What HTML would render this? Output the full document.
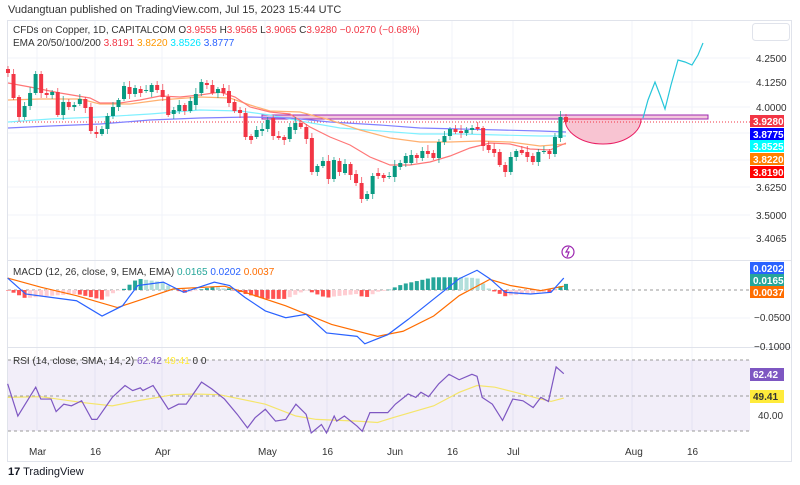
<!DOCTYPE html>
<html><head><meta charset="utf-8"><style>
body{margin:0;background:#fff;width:800px;height:485px;overflow:hidden;font-family:"Liberation Sans",sans-serif}
svg{position:absolute;left:0;top:0}
</style></head><body>
<svg id="s" width="800" height="485" xmlns="http://www.w3.org/2000/svg" font-family="Liberation Sans, sans-serif">
<rect x="0" y="0" width="800" height="485" fill="#fff"/>
<text x="8" y="13" font-size="11" fill="#333">Vudangtuan published on TradingView.com, Jul 15, 2023 15:44 UTC</text>
<rect x="7.5" y="20.5" width="784" height="441" fill="none" stroke="#e0e3eb"/>
<g id="grid" stroke="#f0f3fa" stroke-width="1"></g>
<rect x="262" y="115" width="446" height="4" fill="#f3c8dc" stroke="#9c27b0" stroke-width="1"/>
<path d="M565,119 A38,25 0 0 0 641,119 Z" fill="#f8c4d2" stroke="#e91e63" stroke-width="1"/>
<line x1="8" y1="122" x2="750" y2="122" stroke="#f23645" stroke-width="1" stroke-dasharray="1,2"/>
<g id="ema" fill="none" stroke-width="1.2"></g>
<g id="candles"></g>
<polyline fill="none" stroke="#26c6da" stroke-width="1.2" points="643,118 648,100 655,82 660,95 665,109 671,85 678,60 685,62 692,65 698,55 703,43"/>
<circle cx="568" cy="252" r="6" fill="#fff" stroke="#9c27b0" stroke-width="1.2"/>
<path d="M569,247 L566,252 L569,252 L567,257" fill="none" stroke="#9c27b0" stroke-width="1.2"/>
<line x1="8" y1="260.5" x2="792" y2="260.5" stroke="#e0e3eb"/>
<line x1="8" y1="347.5" x2="792" y2="347.5" stroke="#e0e3eb"/>
<line x1="8" y1="290" x2="750" y2="290" stroke="#999" stroke-dasharray="3,3"/>
<g id="macd"></g>
<rect x="8" y="360" width="742" height="71" fill="#7e57c2" fill-opacity="0.1"/>
<line x1="8" y1="360" x2="750" y2="360" stroke="#999" stroke-dasharray="3,3"/>
<line x1="8" y1="396" x2="750" y2="396" stroke="#999" stroke-dasharray="3,3"/>
<line x1="8" y1="431" x2="750" y2="431" stroke="#999" stroke-dasharray="3,3"/>
<g id="rsi"></g>
<g font-size="10" fill="#333">
<text x="13" y="33" font-size="10">CFDs on Copper, 1D, CAPITALCOM  O<tspan fill="#f23645">3.9555</tspan>  H<tspan fill="#f23645">3.9565</tspan>  L<tspan fill="#f23645">3.9065</tspan>  C<tspan fill="#f23645">3.9280  −0.0270 (−0.68%)</tspan></text>
<text x="13" y="46">EMA 20/50/100/200  <tspan fill="#f23645">3.8191</tspan>  <tspan fill="#ff9800">3.8220</tspan>  <tspan fill="#00e5ff">3.8526</tspan>  <tspan fill="#2962ff">3.8777</tspan></text>
<text x="13" y="275">MACD (12, 26, close, 9, EMA, EMA)  <tspan fill="#26a69a">0.0165</tspan>  <tspan fill="#2962ff">0.0202</tspan>  <tspan fill="#ff6d00">0.0037</tspan></text>
<text x="13" y="364">RSI (14, close, SMA, 14, 2)  <tspan fill="#7e57c2">62.42</tspan>  <tspan fill="#ffeb3b">49.41</tspan>  0  0</text>
</g>
<g font-size="10" fill="#333">
<text x="756" y="62">4.2500</text><text x="756" y="86">4.1250</text><text x="756" y="111">4.0000</text>
<text x="756" y="191">3.6250</text><text x="756" y="219">3.5000</text><text x="756" y="242">3.4065</text>
<text x="754" y="321">−0.0500</text><text x="754" y="350">−0.1000</text><text x="758" y="419">40.00</text>
</g>
<rect x="752.5" y="23.5" width="37" height="17" rx="3" fill="#fff" stroke="#e0e3eb"/>
<g font-size="10" font-weight="bold" fill="#fff">
<rect x="750" y="115" width="34" height="12" fill="#f23645"/><text x="753" y="125">3.9280</text>
<rect x="750" y="128" width="34" height="12" fill="#0000ff"/><text x="753" y="138">3.8775</text>
<rect x="750" y="140" width="34" height="12" fill="#00ffff"/><text x="753" y="150" fill="#fff">3.8525</text>
<rect x="750" y="153" width="34" height="12" fill="#ff7f00"/><text x="753" y="163">3.8220</text>
<rect x="750" y="166" width="34" height="12" fill="#ff0000"/><text x="753" y="176">3.8190</text>
<rect x="750" y="262" width="34" height="12" fill="#2962ff"/><text x="753" y="272">0.0202</text>
<rect x="750" y="274" width="34" height="12" fill="#26a69a"/><text x="753" y="284">0.0165</text>
<rect x="750" y="286" width="34" height="12" fill="#ff6d00"/><text x="753" y="296">0.0037</text>
<rect x="750" y="368" width="34" height="13" fill="#7e57c2"/><text x="753" y="378">62.42</text>
<rect x="750" y="390" width="34" height="13" fill="#ffeb3b"/><text x="753" y="400" fill="#333">49.41</text>
</g>
<g font-size="10" fill="#333">
<text x="29" y="455">Mar</text><text x="90" y="455">16</text><text x="155" y="455">Apr</text><text x="258" y="455">May</text>
<text x="322" y="455">16</text><text x="387" y="455">Jun</text><text x="447" y="455">16</text><text x="507" y="455">Jul</text>
<text x="625" y="455">Aug</text><text x="687" y="455">16</text>
</g>
<text x="8" y="475" font-size="11" fill="#131722"><tspan font-weight="bold">17</tspan> TradingView</text>
</svg>
<script>
var NS="http://www.w3.org/2000/svg";
function el(p,t,a){var e=document.createElementNS(NS,t);for(var k in a)e.setAttribute(k,a[k]);document.getElementById(p).appendChild(e);return e;}
[37,95,162,265,327,393,452,513,632,692].forEach(function(x){el("grid","line",{x1:x,y1:21,x2:x,y2:431});});
[58,82,107,133,160,187,215,238].forEach(function(y){el("grid","line",{x1:8,y1:y,x2:750,y2:y});});
[318].forEach(function(y){el("grid","line",{x1:8,y1:y,x2:750,y2:y});});
var C=[[69,73,0],[74,98,0],[97,117,0],[106,117,1],[93,106,1],[74,93,1],[74,93,0],[93,95,0],[92,95,1],[92,115,0],[102,115,1],[102,107,0],[105,107,1],[99,104,1],[99,108,0],[107,131,0],[132,134,0],[129,134,1],[116,129,1],[107,116,1],[100,107,1],[86,99,1],[87,94,0],[88,94,1],[89,93,0],[90,91,1],[85,92,1],[85,90,0],[90,97,0],[97,115,0],[110,114,1],[105,111,1],[105,111,0],[101,111,1],[94,105,1],[82,93,1],[83,85,0],[85,93,0],[89,93,1],[88,93,0],[91,103,0],[102,111,0],[110,113,0],[113,137,0],[136,140,0],[130,137,1],[129,131,1],[120,129,1],[118,136,0],[136,138,0],[137,140,0],[127,139,1],
[123,130,1],[123,127,0],[127,139,0],[138,172,0],[166,172,1],[161,166,1],[161,179,0],[160,179,1],[161,172,0],[164,173,1],[164,175,0],[174,183,0],[183,199,0],[194,199,1],[176,194,1],[173,176,0],[175,178,0],[176,177,1],[166,177,1],[163,167,1],[156,163,1],[155,163,1],[155,158,0],[151,158,1],[151,154,0],[153,158,0],[142,158,1],[136,142,1],[129,136,1],[129,132,0],[131,133,0],[130,133,1],[128,130,1],[127,129,0],[128,146,0],[145,150,0],[149,153,0],[152,165,0],[165,172,0],[157,172,1],[151,157,1],[150,153,0],[152,157,0],[156,162,0],[152,162,1],[151,152,1],[151,154,0],[137,154,1],[117,138,1],[117,122,0]];
var n=C.length,st=(566-8)/(n-1);
C.forEach(function(c,i){var x=8+i*st,col=c[2]?"#089981":"#f23645";var w=[3,5,2,4,6,3][i%6];
el("candles","line",{x1:x,y1:c[0]-w,x2:x,y2:c[1]+[4,2,5,3][i%4],stroke:col,"stroke-width":1,"stroke-opacity":0.7});
el("candles","rect",{x:x-2,y:c[0],width:4,height:Math.max(1,c[1]-c[0]),fill:col});});
function pl(g,pts,col,w){el(g,"polyline",{points:pts.map(function(p){return p.join(",")}).join(" "),fill:"none",stroke:col,"stroke-width":w||1.2});}
pl("ema",[[8,122],[50,119],[100,117],[150,114],[200,110],[240,111],[270,115],[300,121],[340,128],[380,131],[420,134],[460,134],[500,135],[540,136],[566,136]],"#80f0ff");
pl("ema",[[8,128],[50,126],[100,124],[150,120],[200,118],[250,117],[290,118],[330,122],[380,125],[420,128],[460,129],[500,130],[540,131],[566,132]],"#8080ff");
pl("ema",[[8,100],[40,99],[80,99],[100,104],[130,104],[160,100],[200,97],[230,98],[250,105],[270,111],[300,112],[330,120],[360,130],[390,138],[420,142],[450,142],[480,141],[510,142],[540,146],[566,144]],"#ffb070");
pl("ema",[[8,83],[30,87],[60,93],[90,98],[100,103],[120,103],[140,100],[160,96],[180,97],[200,95],[220,92],[235,97],[250,107],[270,112],[290,114],[310,127],[330,137],[350,145],[370,157],[390,165],[410,165],[430,162],[450,156],[470,148],[490,143],[510,144],[530,149],[550,150],[566,143]],"#f77");
function cv(a){return a.map(function(p){return [p[0]/1.96,255+p[1]/2.95];});}
var M=cv([[15,68],[50,115],[100,125],[150,135],[200,180],[240,150],[270,90],[320,80],[360,110],[420,80],[450,90],[480,125],[520,165],[560,185],[600,175],[640,230],[700,240],[715,262],[760,235],[800,190],[850,130],[900,70],[935,45],[960,70],[990,110],[1040,115],[1080,110],[1105,68]]);
var S=cv([[15,68],[80,95],[150,120],[230,155],[300,120],[340,100],[440,92],[480,110],[560,150],[650,205],[740,240],[790,225],[850,180],[900,120],[960,72],[1000,90],[1060,105],[1105,92]]);
function at(P,x){for(var i=1;i<P.length;i++){if(x<=P[i][0]){var a=P[i-1],b=P[i],t=(x-a[0])/(b[0]-a[0]);return a[1]+t*(b[1]-a[1]);}}return P[P.length-1][1];}
var prev=0;for(var i=0;i<n;i++){var x=8+i*st;var h=(at(S,x)-at(M,x))*0.75;var col;
if(h>=0)col=(h>=prev)?"#26a69a":"#b2dfdb";else col=(h<=prev)?"#ff5252":"#ffcdd2";prev=h;
el("macd","rect",{x:x-2,y:h>=0?290-h:290,width:4,height:Math.max(0.5,Math.abs(h)),fill:col});}
pl("macd",S,"#ff6d00");pl("macd",M,"#2962ff");
var R=cv([[15,380],[35,475],[70,390],[80,425],[100,425],[110,462],[125,440],[140,445],[160,430],[180,485],[190,485],[220,420],[245,385],[260,400],[275,392],[280,400],[300,385],[330,455],[350,440],[365,440],[395,375],[415,395],[440,425],[465,470],[485,510],[500,480],[520,455],[540,490],[560,485],[580,440],[600,470],[610,525],[630,500],[640,525],[655,475],[660,490],[675,475],[700,505],[710,520],[725,465],[760,465],[775,440],[800,410],[815,420],[825,405],[840,418],[860,380],[880,352],[900,368],[925,352],[935,358],[945,420],[965,440],[985,488],[1005,425],[1025,430],[1045,450],[1060,420],[1075,432],[1090,330],[1105,350]]);
var Y=cv([[15,420],[80,418],[160,435],[220,445],[270,430],[340,412],[380,410],[430,412],[520,440],[580,475],[620,485],[700,490],[740,494],[770,480],[850,445],[900,405],[935,385],[970,390],[1010,405],[1060,425],[1080,432],[1105,422]]);
pl("rsi",Y,"#f5e56b");pl("rsi",R,"#7e57c2");
</script>
</body></html>
